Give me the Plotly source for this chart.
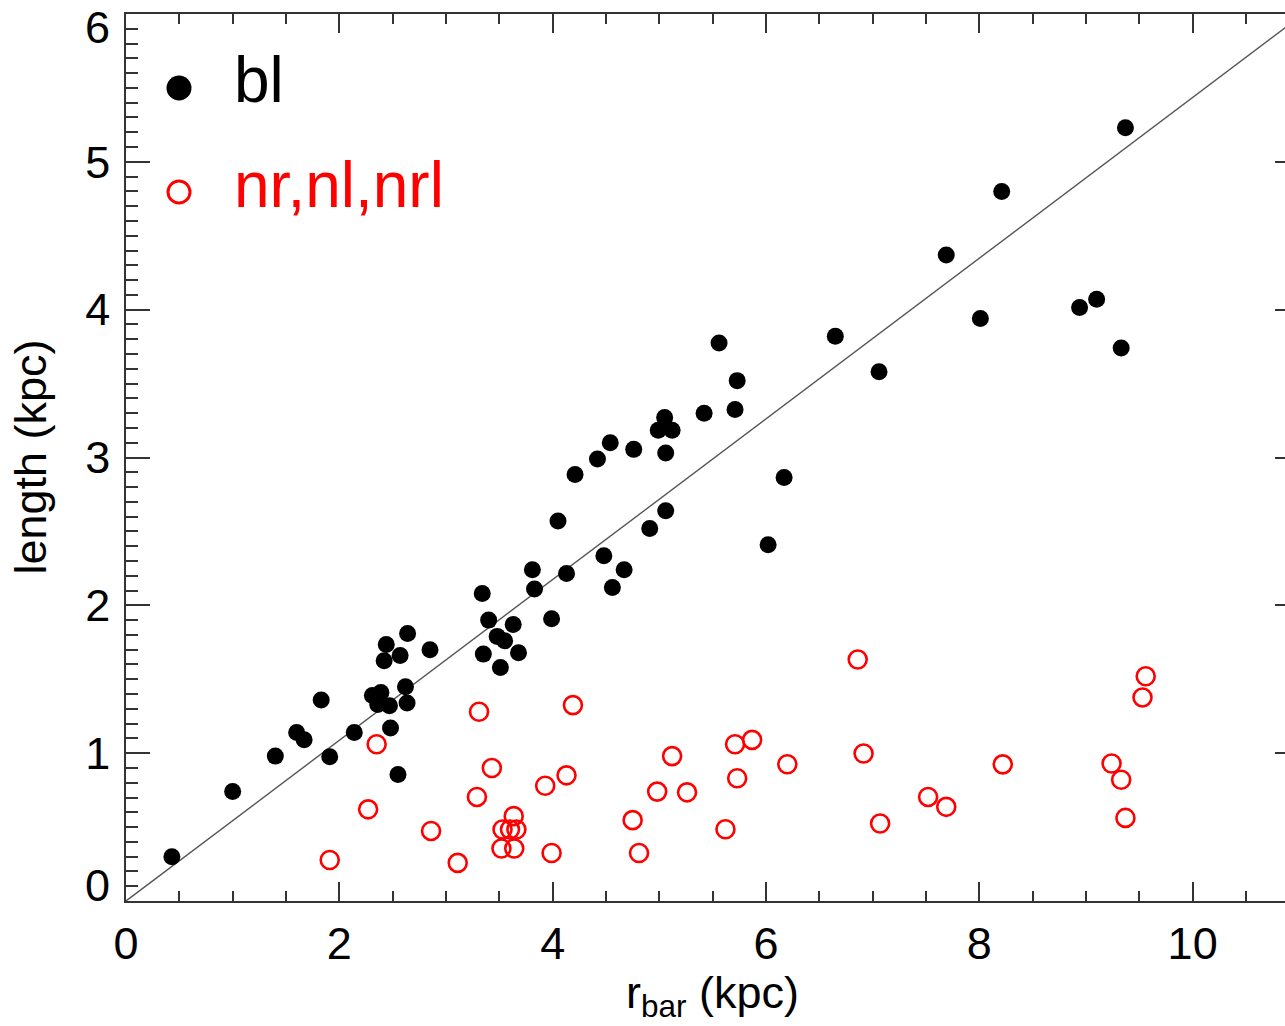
import plotly.graph_objects as go

# ---- data ----
bl_x = [0.43, 1.00, 1.40, 1.60, 1.67, 1.83, 1.91, 2.14, 2.31, 2.39, 2.36, 2.47, 2.44, 2.42,
        2.57, 2.64, 2.62, 2.635, 2.48, 2.55, 2.85, 3.34, 3.40, 3.63, 3.48, 3.55, 3.35, 3.68,
        3.51, 3.99, 3.81, 3.83, 4.13, 4.05, 4.21, 4.42, 4.54, 4.76, 4.48, 4.67, 4.56, 4.91,
        5.06, 5.05, 4.99, 5.12, 5.06, 5.42, 5.71, 5.73, 5.56, 6.02, 6.17, 6.65, 7.06, 7.69,
        8.01, 8.21, 8.94, 9.10, 9.33, 9.37]
bl_y = [0.30, 0.74, 0.98, 1.14, 1.09, 1.36, 0.975, 1.14, 1.39, 1.41, 1.33, 1.32, 1.735, 1.625,
        1.66, 1.81, 1.45, 1.34, 1.17, 0.855, 1.70, 2.08, 1.90, 1.87, 1.79, 1.76, 1.67, 1.68,
        1.58, 1.91, 2.24, 2.11, 2.215, 2.57, 2.885, 2.99, 3.10, 3.055, 2.335, 2.24, 2.12, 2.52,
        2.64, 3.27, 3.185, 3.185, 3.03, 3.30, 3.325, 3.52, 3.775, 2.41, 2.865, 3.82, 3.58, 4.37,
        3.94, 4.80, 4.015, 4.07, 3.74, 5.23]

n_x = [1.91, 2.27, 2.35, 2.86, 3.11, 3.31, 3.29, 3.43, 3.53, 3.60, 3.66, 3.635, 3.52, 3.64,
       3.99, 3.93, 4.13, 4.19, 4.75, 4.81, 4.98, 5.12, 5.26, 5.62, 5.71, 5.73, 5.87, 6.20,
       6.86, 6.915, 7.07, 7.52, 7.69, 8.22, 9.24, 9.33, 9.37, 9.56, 9.53]
n_y = [0.277, 0.62, 1.06, 0.474, 0.258, 1.28, 0.704, 0.90, 0.484, 0.484, 0.484, 0.574, 0.355, 0.355,
       0.325, 0.78, 0.85, 1.325, 0.547, 0.325, 0.74, 0.98, 0.735, 0.485, 1.06, 0.83, 1.09, 0.925,
       1.634, 0.998, 0.524, 0.704, 0.637, 0.924, 0.93, 0.82, 0.562, 1.52, 1.377]

line_slope = 0.5435
line_x = [0, 11]
line_y = [v * line_slope for v in line_x]

x_tickvals = [0, 2, 4, 6, 8, 10]
x_ticktext = ["0", "2", "4", "6", "8", "10"]
y_tickvals = [1, 2, 3, 4, 5]
y_ticktext = ["1", "2", "3", "4", "5"]
y_end_labels = ["0", "6"]

legend_labels = ["bl", "nr,nl,nrl"]
x_title = "r<sub>bar</sub> (kpc)"
y_title = "length (kpc)"

FONT = "Liberation Sans, Arial, Helvetica, sans-serif"
AX = "#333333"

fig = go.Figure()
fig.add_trace(go.Scatter(x=line_x, y=line_y, mode="lines",
                         line=dict(color="#555555", width=1.4), hoverinfo="skip", showlegend=False))
fig.add_trace(go.Scatter(x=bl_x, y=bl_y, mode="markers", name=legend_labels[0],
                         marker=dict(color="black", size=17, line=dict(width=0)), showlegend=False))
fig.add_trace(go.Scatter(x=n_x, y=n_y, mode="markers", name=legend_labels[1],
                         marker=dict(symbol="circle-open", color="red", size=18,
                                     line=dict(width=2.6, color="red")), showlegend=False))
# right-side tick marks (axis frame lies just beyond the image edge)
fig.add_trace(go.Scatter(x=[None], y=[None], yaxis="y2", showlegend=False, hoverinfo="skip"))

X_VIS = 10.866

fig.update_layout(
    width=1285, height=1026,
    margin=dict(l=126, r=0, t=14, b=125),
    paper_bgcolor="white", plot_bgcolor="white",
    font=dict(family=FONT, size=45, color="black"),
    xaxis=dict(range=[0, X_VIS], showgrid=False, zeroline=False,
               showline=True, linecolor=AX, linewidth=1.6, mirror="ticks",
               ticks="inside", ticklen=19, tickwidth=1.5, tickcolor=AX,
               tickvals=x_tickvals, ticktext=x_ticktext,
               tickfont=dict(family=FONT, size=45, color="black"),
               ticklabelstandoff=2,
               minor=dict(dtick=0.5, ticks="inside", ticklen=10, tickwidth=1.5, tickcolor=AX,
                          showgrid=False)),
    yaxis=dict(range=[0, 6], showgrid=False, zeroline=False,
               showline=True, linecolor=AX, linewidth=1.6, mirror=False,
               ticks="inside", ticklen=24, tickwidth=1.5, tickcolor=AX,
               tickvals=y_tickvals, ticktext=y_ticktext,
               tickfont=dict(family=FONT, size=45, color="black"),
               ticklabelstandoff=5,
               minor=dict(dtick=0.1, ticks="inside", ticklen=12, tickwidth=1.5, tickcolor=AX,
                          showgrid=False)),
    yaxis2=dict(range=[0, 6], overlaying="y", side="right", anchor="x",
                showgrid=False, zeroline=False, showline=False,
                ticks="inside", ticklen=10, tickwidth=1.5, tickcolor=AX,
                tickvals=y_tickvals, showticklabels=False),
)

# end y tick labels (shifted inward as in the reference)
fig.add_annotation(x=0, xref="paper", y=0, yref="y", text=y_end_labels[0], showarrow=False,
                   xanchor="right", yanchor="middle", xshift=-14, yshift=16,
                   font=dict(family=FONT, size=45, color="black"))
fig.add_annotation(x=0, xref="paper", y=6, yref="y", text=y_end_labels[1], showarrow=False,
                   xanchor="right", yanchor="middle", xshift=-14, yshift=-13,
                   font=dict(family=FONT, size=45, color="black"))

# axis titles
fig.add_annotation(x=5.5, xref="x", y=0, yref="paper", text=x_title, showarrow=False,
                   xanchor="center", yanchor="top", yshift=-64,
                   font=dict(family=FONT, size=45, color="black"))
fig.add_annotation(x=(30 - 126) / 1159, xref="paper", y=0.5, yref="paper", text=y_title,
                   showarrow=False, textangle=-90, xanchor="center", yanchor="middle",
                   font=dict(family=FONT, size=45, color="black"))

# legend (manual)
lx = (179 - 126) / 1159
ly1 = (901 - 88) / 887
ly2 = (901 - 192) / 887
fig.add_shape(type="circle", xref="paper", yref="paper", xsizemode="pixel", ysizemode="pixel",
              xanchor=lx, yanchor=ly1, x0=-12.5, x1=12.5, y0=-12.5, y1=12.5,
              fillcolor="black", line=dict(width=0))
fig.add_shape(type="circle", xref="paper", yref="paper", xsizemode="pixel", ysizemode="pixel",
              xanchor=lx, yanchor=ly2, x0=-11, x1=11, y0=-11, y1=11,
              fillcolor="rgba(0,0,0,0)", line=dict(width=3, color="red"))
tx = (232 - 126) / 1159
fig.add_annotation(x=tx, xref="paper", y=(901 - 80) / 887, yref="paper", text=legend_labels[0],
                   showarrow=False, xanchor="left", yanchor="middle",
                   font=dict(family=FONT, size=64, color="black"))
fig.add_annotation(x=tx, xref="paper", y=(901 - 185) / 887, yref="paper", text=legend_labels[1],
                   showarrow=False, xanchor="left", yanchor="middle",
                   font=dict(family=FONT, size=64, color="red"))

fig.write_html("out.html",
               config={"displayModeBar": False},
               post_script="document.body.style.margin='0';document.body.style.padding='0';"
                           "document.body.style.overflow='hidden';")
